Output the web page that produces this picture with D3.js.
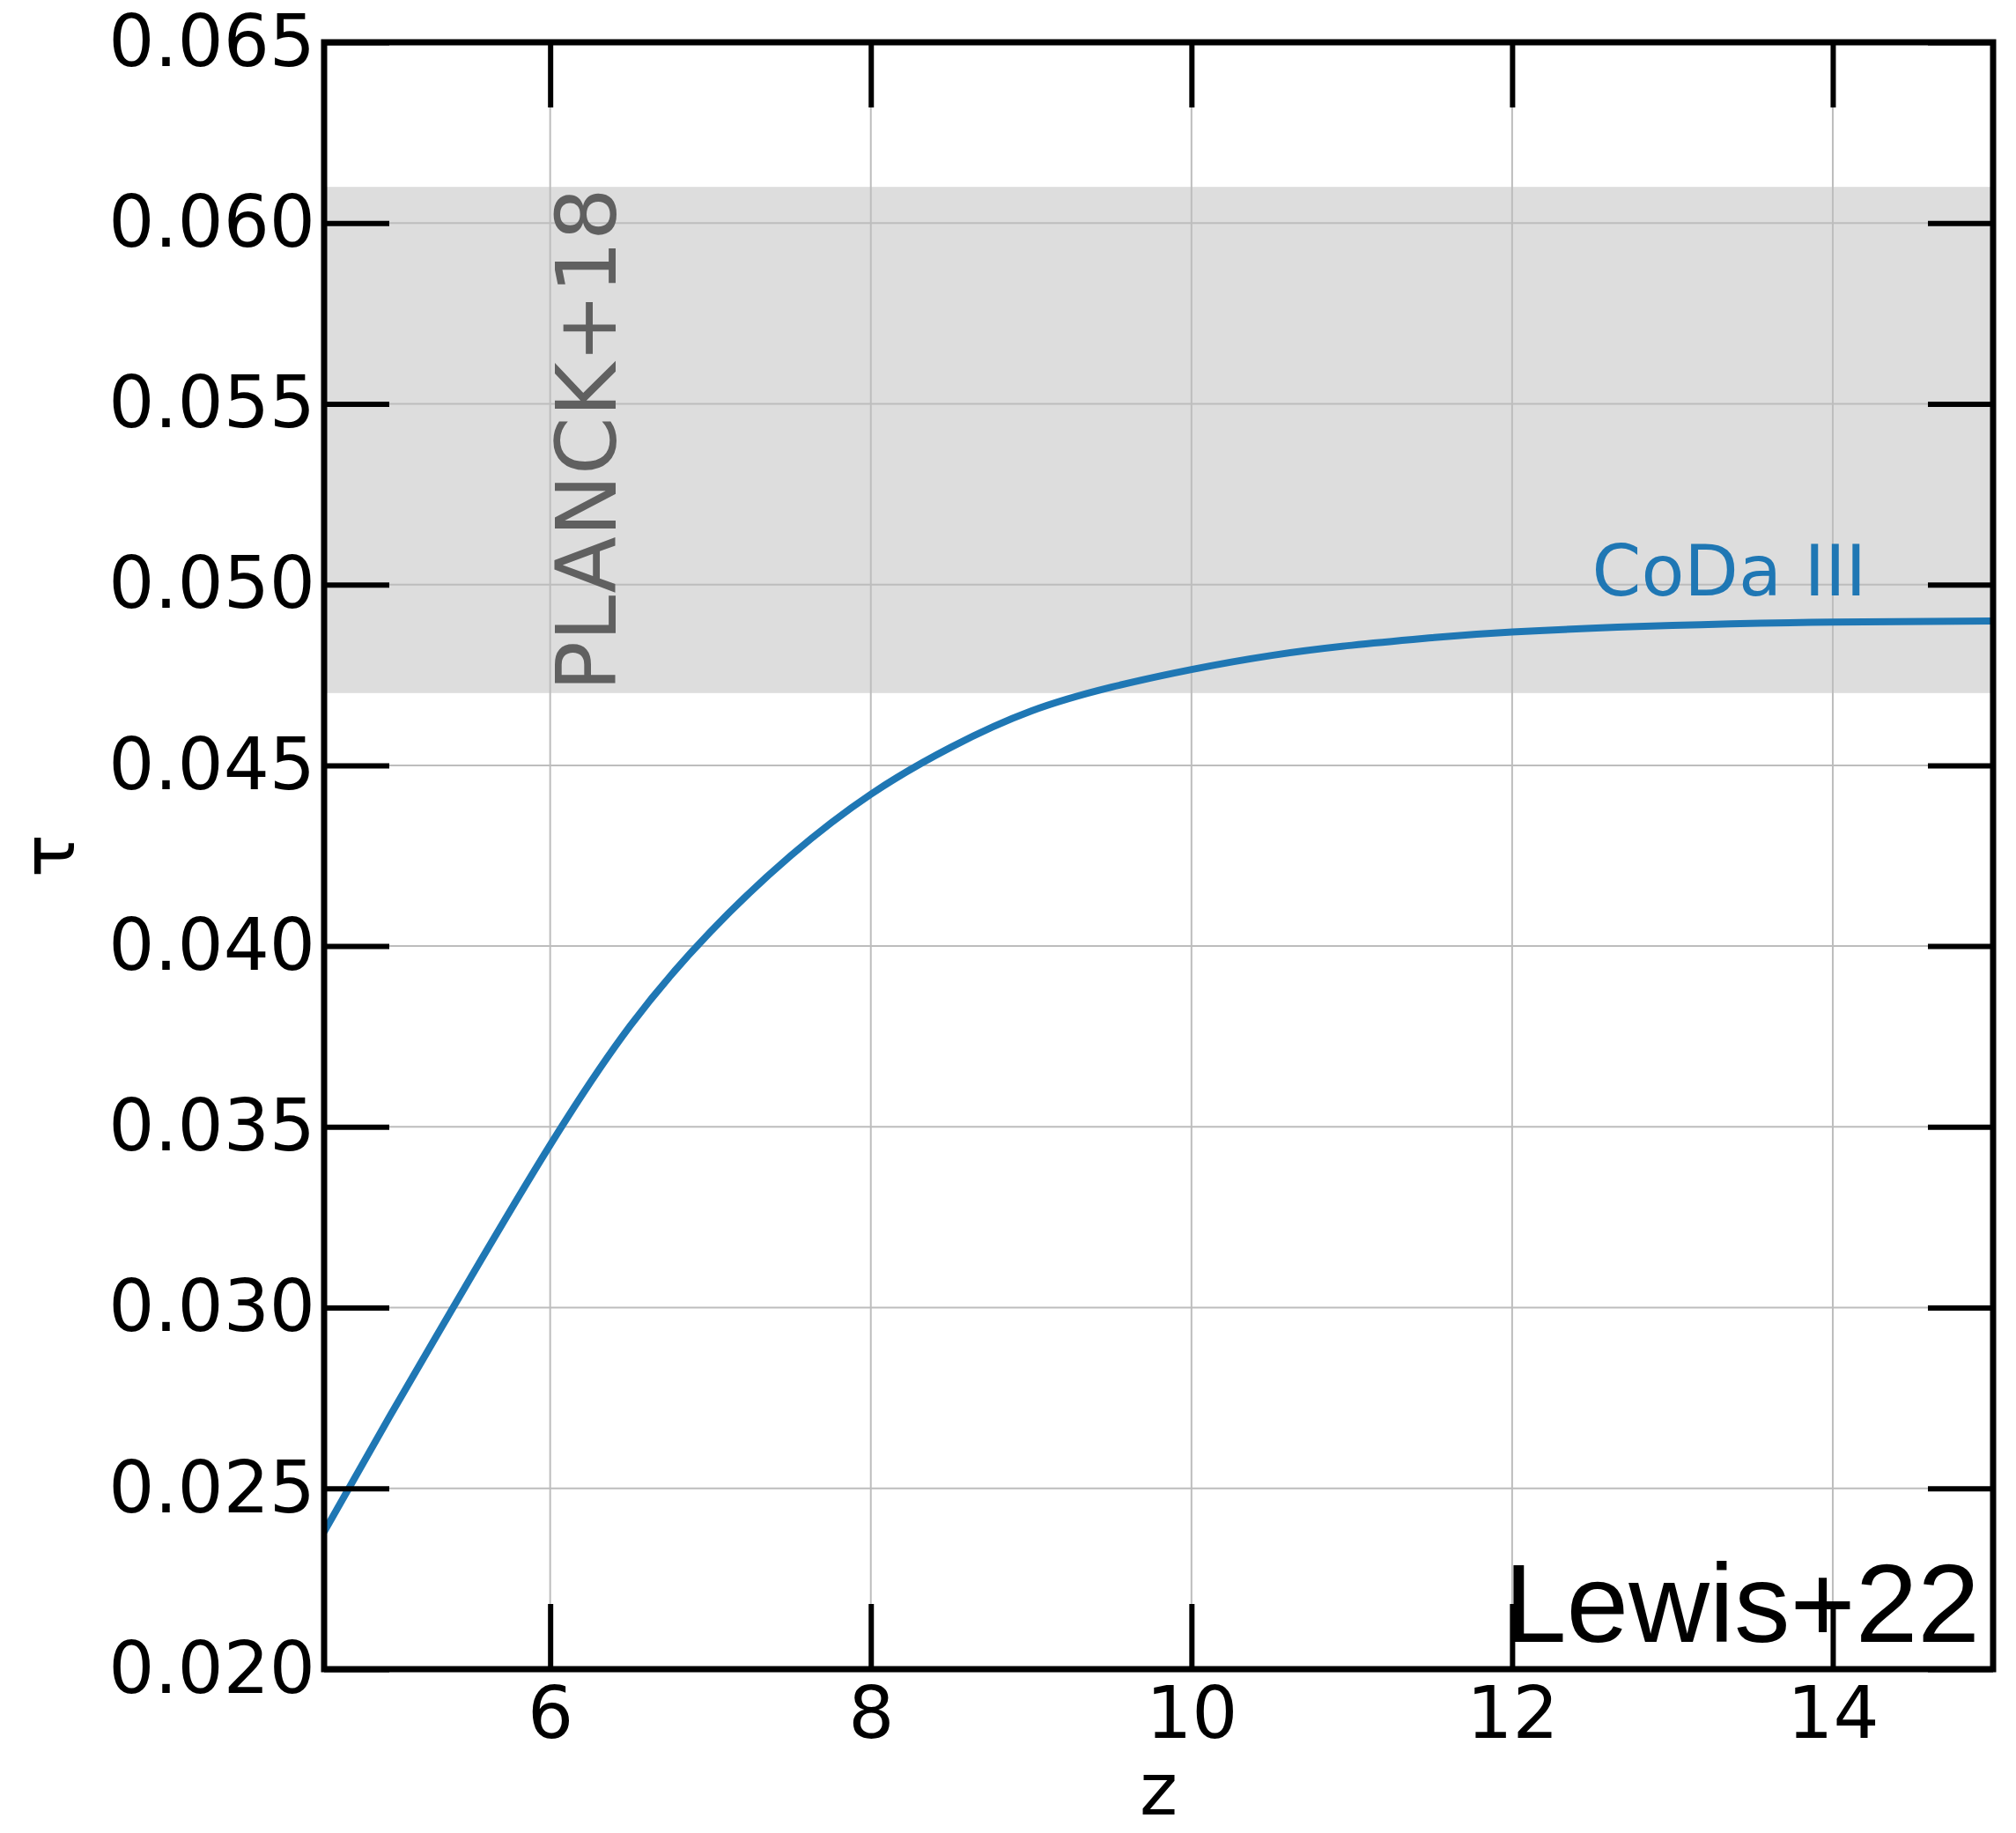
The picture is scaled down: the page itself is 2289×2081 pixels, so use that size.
<!DOCTYPE html>
<html>
<head>
<meta charset="utf-8">
<script src="https://cdn.jsdelivr.net/npm/d3@7"></script>
<style>
  body { margin: 0; background: #fff; }
</style>
</head>
<body>
<div id="chart"></div>
<script>
// CoDa III optical depth vs redshift
const zValues = [4.59, 5, 5.5, 6, 6.5, 7, 7.5, 8, 8.5, 9, 9.5, 10, 10.5, 11, 11.5, 12, 13, 14, 15];
const tauValues = [0.0238, 0.0270, 0.0308, 0.0345, 0.0378, 0.0404, 0.0425, 0.0442, 0.0455, 0.0465, 0.04716, 0.04765, 0.04804, 0.04832, 0.04853, 0.04869, 0.04887, 0.04896, 0.04899];

// Planck 2018 band
const planckLow = 0.047;
const planckHigh = 0.061;

const xTicks = [6, 8, 10, 12, 14];
const yTicks = [0.020, 0.025, 0.030, 0.035, 0.040, 0.045, 0.050, 0.055, 0.060, 0.065];

const svg = d3
  .select("#chart")
  .append("svg")
  .attr("width", 2289)
  .attr("height", 2081)
  .style("font-family", "DejaVu Sans, sans-serif");

const margin = { top: 48, bottom: 186, left: 368, right: 26 };
const width = +svg.attr("width") - margin.left - margin.right;
const height = +svg.attr("height") - margin.top - margin.bottom;

const chart = svg.append("g").attr("transform", `translate(${margin.left},${margin.top})`);

const xScale = d3.scaleLinear().domain([4.59, 15.0]).range([0, width]);
const yScale = d3.scaleLinear().domain([0.020, 0.065]).range([height, 0]);

svg.append("defs").append("clipPath").attr("id", "clip")
  .append("rect").attr("width", width).attr("height", height);

// shaded band
chart.append("rect")
  .attr("x", 0)
  .attr("width", width)
  .attr("y", yScale(planckHigh))
  .attr("height", yScale(planckLow) - yScale(planckHigh))
  .attr("fill", "#dddddd");

// grid
chart.append("g")
  .selectAll("line")
  .data(xTicks)
  .join("line")
  .attr("x1", d => xScale(d)).attr("x2", d => xScale(d))
  .attr("y1", 0).attr("y2", height)
  .attr("stroke", "#bdbdbd").attr("stroke-width", 2);
chart.append("g")
  .selectAll("line")
  .data(yTicks)
  .join("line")
  .attr("y1", d => yScale(d)).attr("y2", d => yScale(d))
  .attr("x1", 0).attr("x2", width)
  .attr("stroke", "#bdbdbd").attr("stroke-width", 2);

// band label
chart.append("text")
  .attr("transform", `translate(${xScale(6) + 74},${yScale(planckLow) - 2}) rotate(-90)`)
  .attr("fill", "#606060")
  .attr("font-size", 94)
  .text("PLANCK+18");

// curve
const line = d3.line()
  .x((d, i) => xScale(zValues[i]))
  .y(d => yScale(d))
  .curve(d3.curveNatural);

chart.append("path")
  .datum(tauValues)
  .attr("clip-path", "url(#clip)")
  .attr("fill", "none")
  .attr("stroke", "#1f77b4")
  .attr("stroke-width", 8)
  .attr("stroke-linejoin", "round")
  .attr("d", line);

chart.append("text")
  .attr("x", xScale(14.21))
  .attr("y", yScale(0.04969))
  .attr("text-anchor", "end")
  .attr("fill", "#1f77b4")
  .attr("font-size", 80)
  .text("CoDa III");

// axes with inward ticks
const tickLen = 74;
const fmt = d3.format(".3f");

const xBottom = chart.append("g")
  .attr("class", "x-axis")
  .attr("transform", `translate(0,${height})`)
  .call(d3.axisBottom(xScale).tickValues(xTicks).tickSizeInner(-tickLen).tickSizeOuter(0).tickPadding(20));
const xTop = chart.append("g")
  .call(d3.axisTop(xScale).tickValues(xTicks).tickSizeInner(-tickLen).tickSizeOuter(0).tickFormat(""));
const yLeft = chart.append("g")
  .attr("class", "y-axis")
  .call(d3.axisLeft(yScale).tickValues(yTicks).tickFormat(fmt).tickSizeInner(-tickLen).tickSizeOuter(0).tickPadding(10));
const yRight = chart.append("g")
  .attr("transform", `translate(${width},0)`)
  .call(d3.axisRight(yScale).tickValues(yTicks).tickSizeInner(-tickLen).tickSizeOuter(0).tickFormat(""));

[xBottom, xTop, yLeft, yRight].forEach(g => {
  g.attr("font-family", null).attr("font-size", null);
  g.select(".domain").remove();
  g.selectAll(".tick line").attr("stroke", "#000").attr("stroke-width", 6);
  g.selectAll(".tick text")
    .attr("fill", "#000")
    .style("font-size", "82px")
    .style("font-family", "DejaVu Sans, sans-serif");
});

// frame
chart.append("rect")
  .attr("width", width)
  .attr("height", height)
  .attr("fill", "none")
  .attr("stroke", "#000")
  .attr("stroke-width", 7);

// axis labels
svg.append("text")
  .attr("x", margin.left + width / 2)
  .attr("y", 2060)
  .attr("text-anchor", "middle")
  .attr("font-size", 82)
  .text("z");

svg.append("text")
  .attr("transform", `translate(84,${margin.top + height / 2}) rotate(-90)`)
  .attr("text-anchor", "middle")
  .attr("font-size", 82)
  .text("τ");

// reference tag
chart.append("text")
  .attr("x", width - 15)
  .attr("y", height - 31)
  .attr("text-anchor", "end")
  .style("font-family", "Liberation Sans, Arial, sans-serif")
  .style("font-size", "127px")
  .attr("fill", "#000")
  .text("Lewis+22");
</script>
</body>
</html>
